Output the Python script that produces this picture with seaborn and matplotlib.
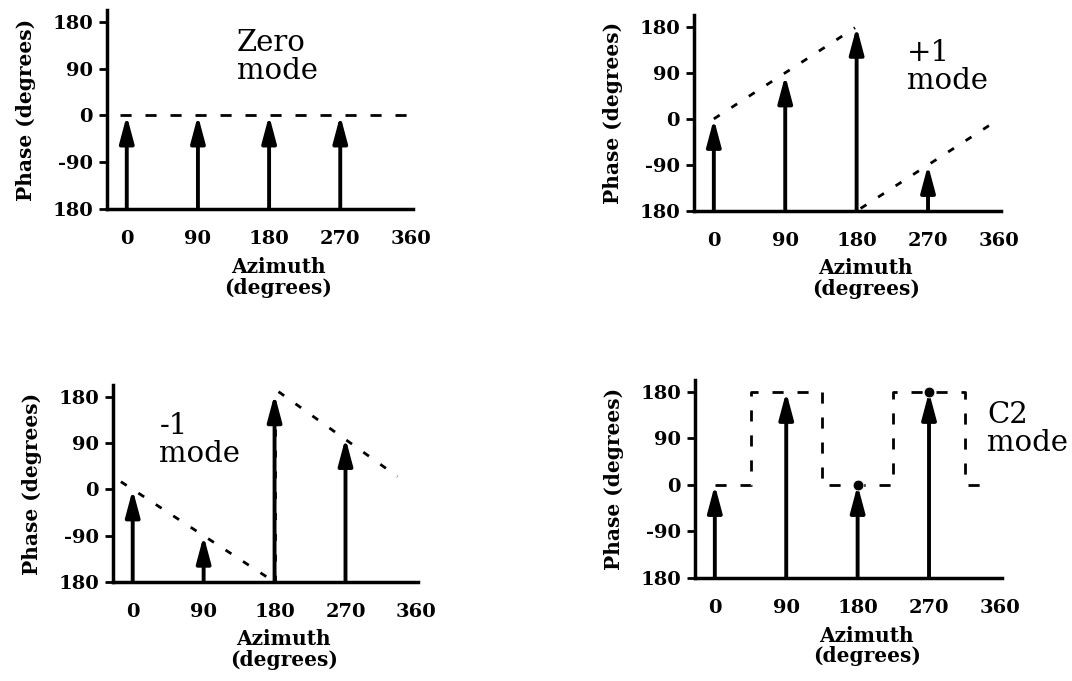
import matplotlib
matplotlib.use("Agg")
import matplotlib.pyplot as plt
import seaborn as sns

sns.set_style("ticks")
plt.rcParams['font.family'] = ['DejaVu Serif']
plt.rcParams['text.color'] = 'black'
plt.rcParams['axes.labelcolor'] = 'black'
plt.rcParams['xtick.color'] = 'black'
plt.rcParams['ytick.color'] = 'black'
plt.rcParams['axes.edgecolor'] = 'black'

azimuths = [0, 90, 180, 270]
ytick_vals = [180, 90, 0, -90, -180]
ytick_labels = ["180", "90", "0", "-90", "180"]
xtick_vals = [0, 90, 180, 270, 360]

# arrow phases per mode
zero_phase = [0, 0, 0, 0]
plus_phase = [0, 85, 180, -90]
minus_phase = [0, -90, 185, 100]
c2_phase = [0, 180, 0, 180]

# dashed phase curves
zero_x = [-8, 360]
zero_y = [0, 0]
plus_x1 = [0, 178]
plus_y1 = [0, 178]
plus_x2 = [185, 350]
plus_y2 = [-175, -10]
minus_x1 = [-15, 178]
minus_y1 = [15, -178]
minus_xv = [180, 180]
minus_yv = [-180, 180]
minus_x2 = [185, 336]
minus_y2 = [190, 25]
c2_x = [0, 45, 45, 135, 135, 225, 225, 315, 315, 350]
c2_y = [0, 0, 180, 180, 0, 0, 180, 180, 0, 0]
c2_dot_x = [180, 270]
c2_dot_y = [0, 180]

fig = plt.figure(figsize=(10.72, 6.81), dpi=100)
W, H = 1072, 681


def make_ax(x0, x1, ytop, ybot):
    return fig.add_axes([x0 / W, (H - ybot) / H, (x1 - x0) / W, (ybot - ytop) / H])


def style(ax, label_x):
    ax.set_xlim(-25, 362)
    ax.set_ylim(-180, 203)
    sns.despine(ax=ax)
    for s in ["left", "bottom"]:
        ax.spines[s].set_linewidth(2.5)
    ax.set_yticks(ytick_vals)
    ax.set_yticklabels(ytick_labels, fontsize=14, fontweight="bold")
    ax.set_xticks(xtick_vals)
    ax.set_xticklabels([str(v) for v in xtick_vals], fontsize=14, fontweight="bold")
    ax.tick_params(axis="y", direction="out", length=6, width=2, pad=4)
    ax.tick_params(axis="x", length=0, pad=15)
    ax.set_ylabel("Phase (degrees)", fontsize=14.5, fontweight="bold", labelpad=12)
    ax.set_xlabel("Azimuth\n(degrees)", fontsize=14.5, fontweight="bold",
                  linespacing=1.05)
    ax.xaxis.set_label_coords(label_x, -0.24)


def arrows(ax, phases):
    for az, ph in zip(azimuths, phases):
        ax.annotate("", xy=(az, ph), xytext=(az, -180),
                    arrowprops=dict(arrowstyle="-|>,head_length=0.9,head_width=0.24",
                                    lw=2.8, color="black", mutation_scale=18,
                                    shrinkA=0, shrinkB=0))


def dashed(ax, x, y, dash):
    sns.lineplot(x=x, y=y, ax=ax, sort=False, color="black", lw=2,
                 linestyle=(0, dash), estimator=None)


# Zero mode
ax1 = make_ax(107, 413, 10, 209)
style(ax1, 0.56)
dashed(ax1, zero_x, zero_y, (4, 5))
arrows(ax1, zero_phase)
ax1.text(139, 113, "Zero\nmode", fontsize=21, va="center", ha="left", linespacing=1.0)

# +1 mode
ax2 = make_ax(694, 1001, 15, 211)
style(ax2, 0.56)
dashed(ax2, plus_x1, plus_y1, (2.5, 5))
dashed(ax2, plus_x2, plus_y2, (2.5, 5))
arrows(ax2, plus_phase)
ax2.text(243, 101, "+1\nmode", fontsize=21, va="center", ha="left", linespacing=1.0)

# -1 mode
ax3 = make_ax(113, 418, 385, 582)
style(ax3, 0.56)
dashed(ax3, minus_x1, minus_y1, (2.5, 5))
dashed(ax3, minus_xv, minus_yv, (2.5, 5))
dashed(ax3, minus_x2, minus_y2, (2.5, 5))
arrows(ax3, minus_phase)
ax3.text(34, 96, "-1\nmode", fontsize=21, va="center", ha="left", linespacing=1.0)

# C2 mode
ax4 = make_ax(695, 1002, 380, 578)
style(ax4, 0.56)
dashed(ax4, c2_x, c2_y, (4, 5))
arrows(ax4, c2_phase)
sns.scatterplot(x=c2_dot_x, y=c2_dot_y, ax=ax4, color="black", s=60, zorder=5)
ax4.text(343, 108, "C2\nmode", fontsize=21, va="center", ha="left", linespacing=1.0)

fig.savefig("out.png", dpi=100)
